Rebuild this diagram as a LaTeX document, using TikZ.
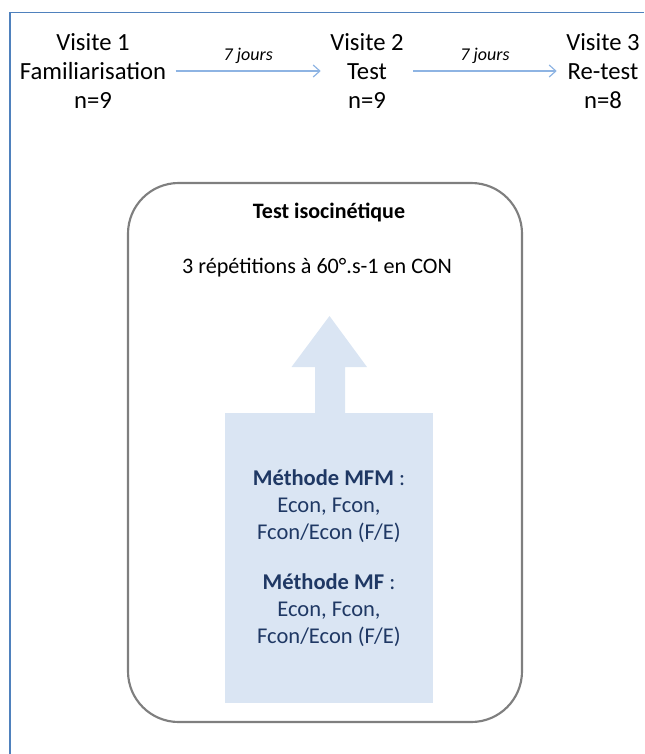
\documentclass[tikz,border=0pt]{standalone}
\usepackage{fontspec}
\setmainfont{Carlito}
\usetikzlibrary{arrows.meta}
\definecolor{frameblue}{HTML}{4F81BD}
\definecolor{arrblue}{HTML}{8EB4E3}
\definecolor{lightfill}{HTML}{DAE5F3}
\definecolor{navy}{HTML}{1F3864}
\definecolor{boxgray}{HTML}{7F7F7F}
\tikzset{
  visite/.style={align=center, font=\fontsize{18.5}{21.75}\selectfont, inner sep=7pt},
  timearrow/.style={draw=arrblue, line width=0.9pt, -{Straight Barb[length=5pt,width=9pt]}},
  lbl/.style={font=\fontsize{13.5}{15}\selectfont\itshape, above=2pt},
}
\begin{document}
\begin{tikzpicture}[x=0.75pt,y=-0.75pt]
\useasboundingbox (0,0) rectangle (644,754);
% outer frame
\draw[frameblue, line width=1.4pt] (10,754) -- (10,12.5) -- (644,12.5);
% visits
\node[visite] (v1) at (93,71) {Visite 1\\Familiarisation\\n=9};
\node[visite] (v2) at (367,71) {Visite 2\\Test\\n=9};
\node[visite] (v3) at (603,71) {Visite 3\\Re-test\\n=8};
\draw[timearrow] (v1.east) -- node[lbl] {7 jours} (v2.west);
\draw[timearrow] (v2.east) -- node[lbl] {7 jours} (v3.west);
% main rounded box
\node[draw=boxgray, line width=1.6pt, rounded corners=38pt, minimum width=295.5pt, minimum height=404.25pt, inner sep=0pt] (box) at (325,452.5) {};
\node[font=\fontsize{16.5}{19}\selectfont\bfseries] (title) at (329,212) {Test isocinétique};
\node[font=\fontsize{16.6}{19}\selectfont] (rep) at (317,268) {3 répétitions à 60°.s-1 en CON};
% up arrow
\fill[lightfill] (315,414) -- (315,367) -- (291.5,367) -- (329.5,316) -- (367,367) -- (345,367) -- (345,414) -- cycle;
% methods box
\node[fill=lightfill, minimum width=156pt, minimum height=217.5pt, inner sep=0pt, align=center,
      text=navy, font=\fontsize{16.9}{20.25}\selectfont] (meth) at (329,558)
  {\textbf{Méthode MFM} :\\Econ, Fcon,\\Fcon/Econ (F/E)\\[17pt]\textbf{Méthode MF} :\\Econ, Fcon,\\Fcon/Econ (F/E)};
\end{tikzpicture}
\end{document}
